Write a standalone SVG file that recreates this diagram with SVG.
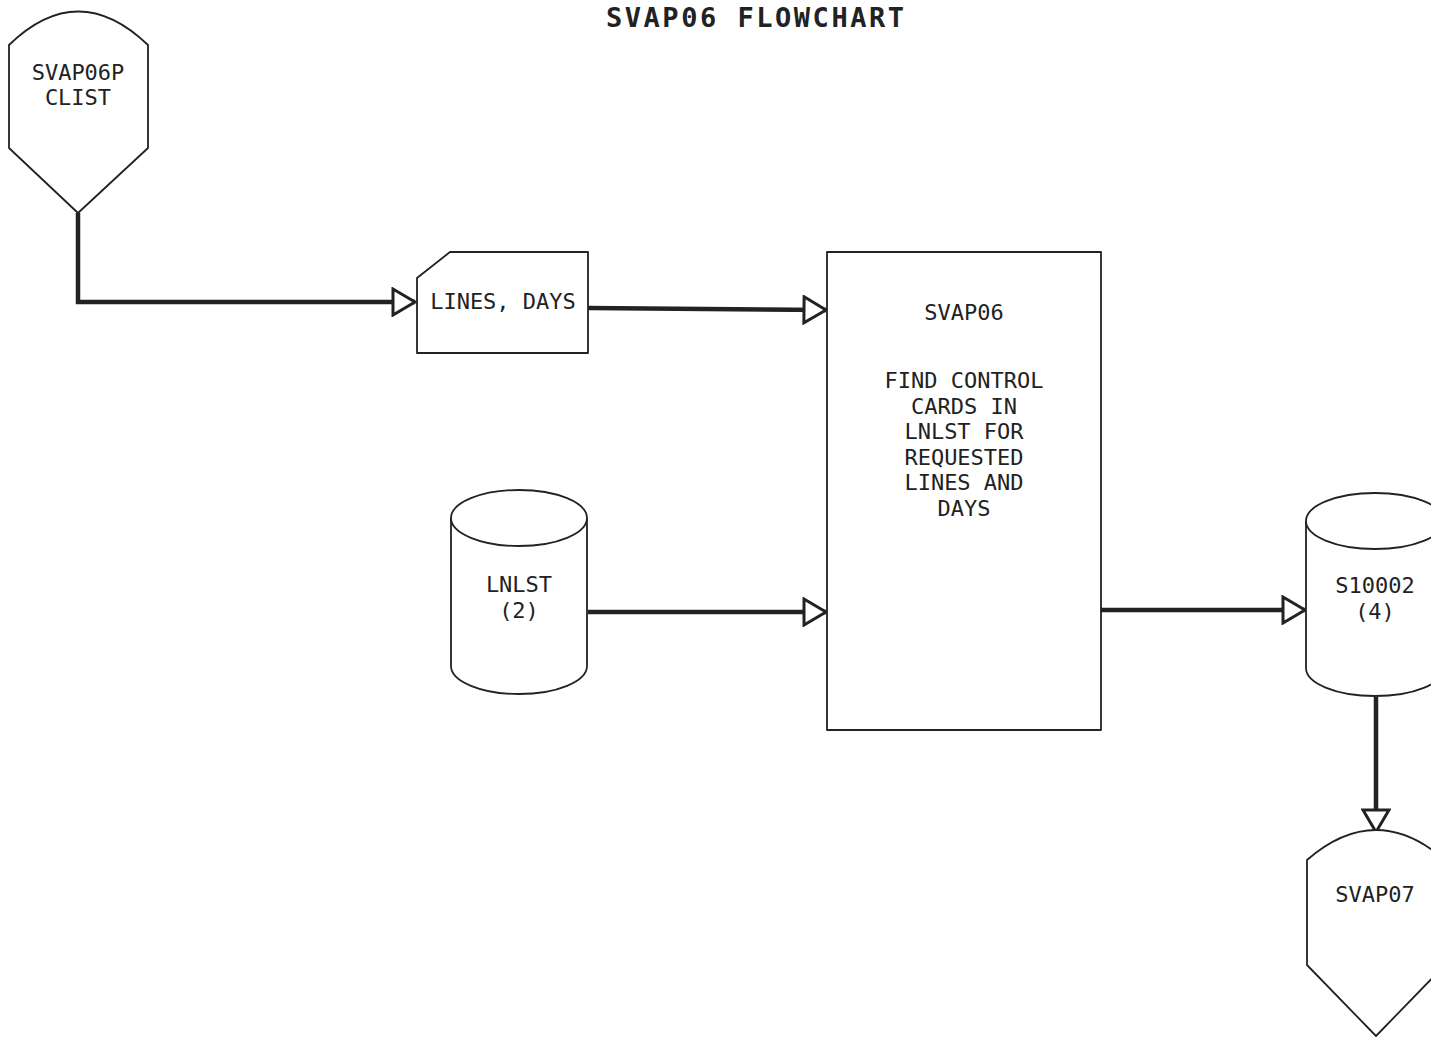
<svg xmlns="http://www.w3.org/2000/svg" width="1431" height="1038" viewBox="0 0 1431 1038">
<style>
.shape{fill:#fff;stroke:#222;stroke-width:1.8;stroke-linejoin:round}
.conn{fill:none;stroke:#222;stroke-width:4.5}
.t{font-family:"DejaVu Sans Mono","Liberation Mono",monospace;font-size:22px;fill:#222;text-anchor:middle}
.title{font-family:"DejaVu Sans Mono","Liberation Mono",monospace;font-size:27px;font-weight:bold;fill:#222;text-anchor:middle}
</style>
<defs>
<marker id="arr" markerUnits="userSpaceOnUse" viewBox="0 0 28 30" refX="25" refY="15" markerWidth="28" markerHeight="30" orient="auto">
<path d="M3,2 L25,15 L3,28 Z" fill="#fff" stroke="#222" stroke-width="3" stroke-linejoin="miter"/>
</marker>
</defs>
<rect width="1431" height="1038" fill="#fff"/>
<text class="title" x="755" y="27" textLength="298" lengthAdjust="spacing">SVAP06 FLOWCHART</text>

<g id="connectors">
<path class="conn" d="M78,213 V302 H415" marker-end="url(#arr)"/>
<path class="conn" d="M588,308 L826,310" marker-end="url(#arr)"/>
<path class="conn" d="M588,612 H826" marker-end="url(#arr)"/>
<path class="conn" d="M1101,610 H1305" marker-end="url(#arr)"/>
<path class="conn" d="M1376,697 V832" marker-end="url(#arr)"/>
</g>

<g id="svap06p">
<path class="shape" d="M9,45 Q78,-22 148,45 V148 L78,213 L9,148 Z"/>
<text class="t" x="78" y="80">SVAP06P</text>
<text class="t" x="78" y="105">CLIST</text>
</g>

<g id="lines-days">
<path class="shape" d="M417,278 L450,252 H588 V353 H417 Z"/>
<text class="t" x="503" y="309">LINES, DAYS</text>
</g>

<g id="svap06">
<rect class="shape" x="827" y="252" width="274" height="478"/>
<text class="t" x="964" y="320">SVAP06</text>
<text class="t" x="964" y="388">FIND CONTROL</text>
<text class="t" x="964" y="414">CARDS IN</text>
<text class="t" x="964" y="439">LNLST FOR</text>
<text class="t" x="964" y="465">REQUESTED</text>
<text class="t" x="964" y="490">LINES AND</text>
<text class="t" x="964" y="516">DAYS</text>
</g>

<g id="lnlst">
<path class="shape" d="M451,518 A68,28 0 0 1 587,518 V666 A68,28 0 0 1 451,666 Z"/>
<path class="shape" d="M451,518 A68,28 0 0 0 587,518" fill="none"/>
<text class="t" x="519" y="592">LNLST</text>
<text class="t" x="519" y="618">(2)</text>
</g>

<g id="s10002">
<path class="shape" d="M1306,521 A69,28 0 0 1 1444,521 V668 A69,28 0 0 1 1306,668 Z"/>
<path class="shape" d="M1306,521 A69,28 0 0 0 1444,521" fill="none"/>
<text class="t" x="1375" y="593">S10002</text>
<text class="t" x="1375" y="619">(4)</text>
</g>

<g id="svap07">
<path class="shape" d="M1307,860 Q1376,800 1445,860 V965 L1376,1036 L1307,965 Z"/>
<text class="t" x="1375" y="902">SVAP07</text>
</g>
</svg>
